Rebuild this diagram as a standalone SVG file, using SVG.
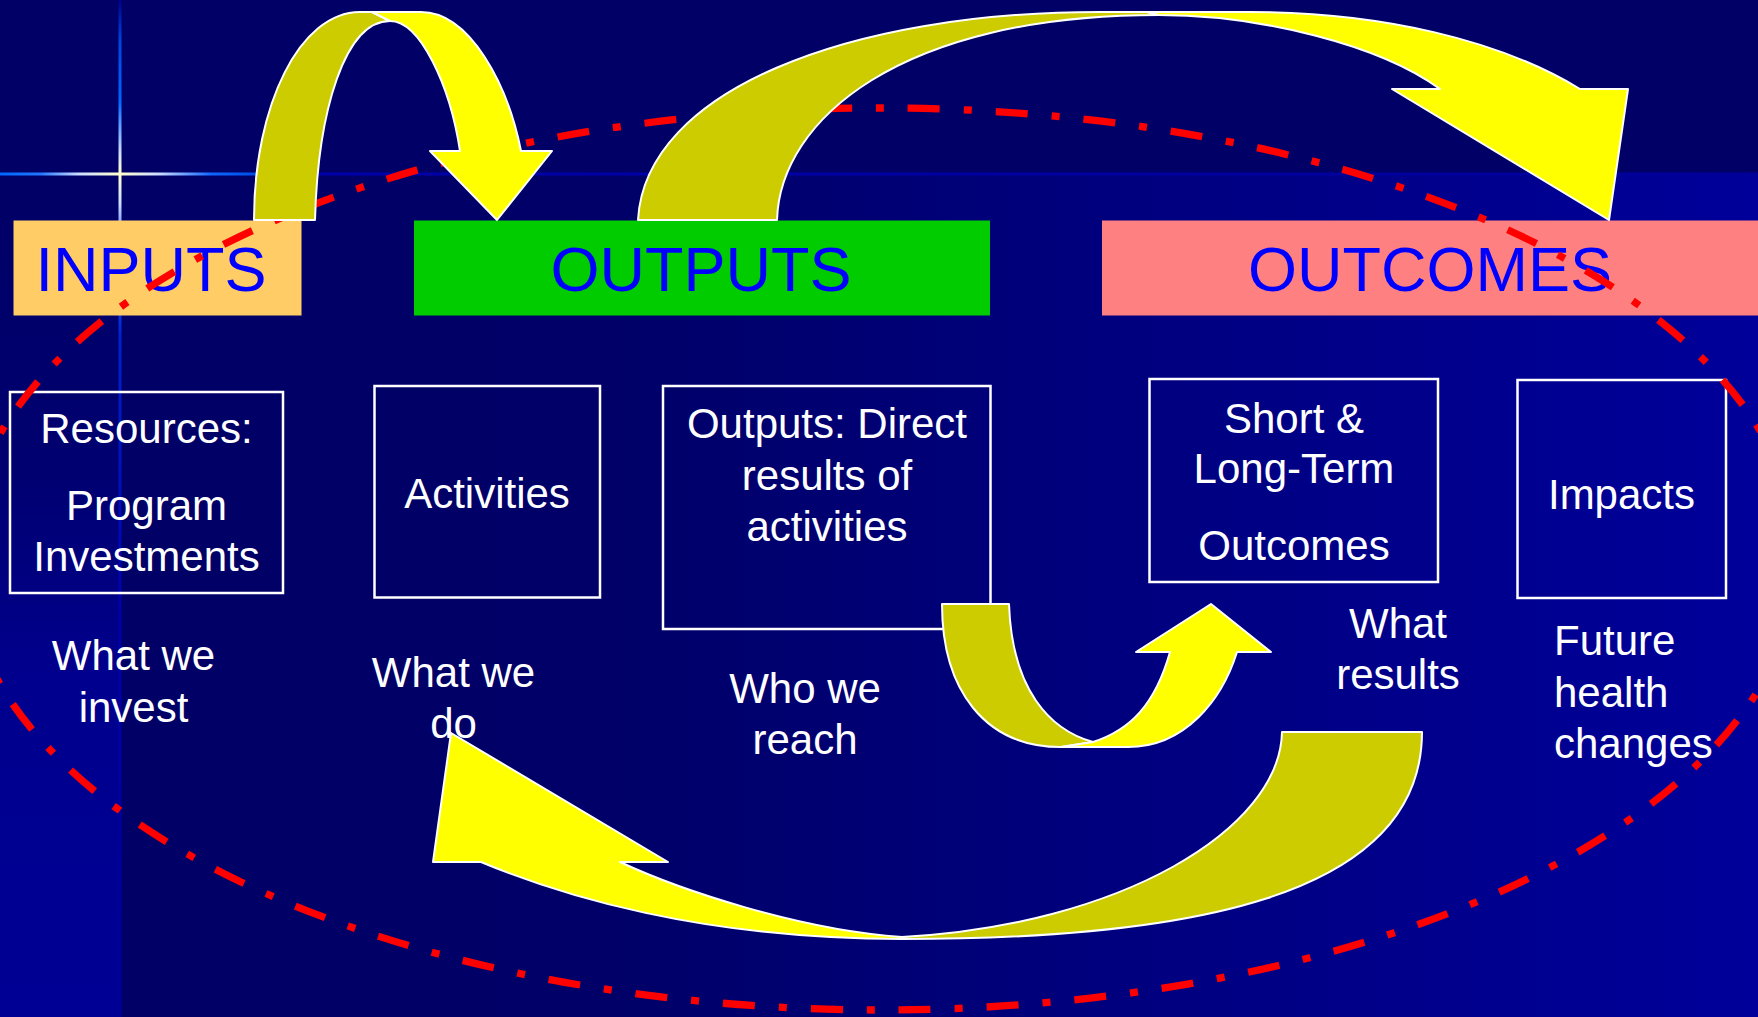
<svg xmlns="http://www.w3.org/2000/svg" width="1758" height="1017" viewBox="0 0 1758 1017">
<defs>
<linearGradient id="bgMain" gradientUnits="userSpaceOnUse" x1="120" y1="0" x2="1758" y2="0">
<stop offset="0" stop-color="#000066"/><stop offset="0.3" stop-color="#000068"/><stop offset="1" stop-color="#00009a"/>
</linearGradient>
<linearGradient id="bgLeft" gradientUnits="userSpaceOnUse" x1="0" y1="174" x2="0" y2="1017">
<stop offset="0" stop-color="#000066"/><stop offset="0.35" stop-color="#000070"/><stop offset="0.6" stop-color="#00008e"/><stop offset="1" stop-color="#000094"/>
</linearGradient>
<linearGradient id="vline" gradientUnits="userSpaceOnUse" x1="0" y1="0" x2="0" y2="1017">
<stop offset="0" stop-color="#000088"/><stop offset="0.04" stop-color="#0044dd"/><stop offset="0.1" stop-color="#0066ff"/><stop offset="0.15" stop-color="#ccddff"/><stop offset="0.171" stop-color="#ffffcc"/><stop offset="0.2" stop-color="#ccddff"/><stop offset="0.24" stop-color="#3366ff"/><stop offset="0.33" stop-color="#0022cc"/><stop offset="0.6" stop-color="#0000aa"/><stop offset="1" stop-color="#000099"/>
</linearGradient>
<linearGradient id="hline" gradientUnits="userSpaceOnUse" x1="0" y1="0" x2="1758" y2="0">
<stop offset="0" stop-color="#0066ff"/><stop offset="0.023" stop-color="#2277ff"/><stop offset="0.045" stop-color="#ccddff"/><stop offset="0.068" stop-color="#ffffcc"/><stop offset="0.09" stop-color="#ccddff"/><stop offset="0.12" stop-color="#1166ff"/><stop offset="0.14" stop-color="#0055ee"/><stop offset="0.18" stop-color="#0000aa"/><stop offset="1" stop-color="#000099"/>
</linearGradient>
</defs>
<style>
.hd{font-family:"Liberation Sans",Arial,sans-serif;font-size:63px;fill:#0000ff;text-anchor:middle}
.tx{font-family:"Liberation Sans",Arial,sans-serif;font-size:42px;fill:#ffffff;text-anchor:middle}
.lt{text-anchor:start}
.box{fill:none;stroke:#ffffff;stroke-width:2.5}
.dk{fill:#cccc00;stroke:#ffffff;stroke-width:2;stroke-linejoin:round}
.yl{fill:#ffff00;stroke:#ffffff;stroke-width:2;stroke-linejoin:round}
.ring{fill:none;stroke:#ff0000;stroke-width:7.3;stroke-dasharray:32 24 8 24}
</style>

<g id="background">
<rect x="0" y="0" width="1758" height="1017" fill="#000066"/>
<rect x="120" y="174" width="1638" height="843" fill="url(#bgMain)"/>
<rect x="0" y="174" width="120" height="843" fill="url(#bgLeft)"/>
<rect x="118.5" y="0" width="3" height="1017" fill="url(#vline)"/>
<rect x="0" y="172.5" width="1758" height="3" fill="url(#hline)"/>
</g>

<g id="inputs">
<rect x="13.5" y="220.5" width="288" height="95" fill="#ffcc66"/>
<text class="hd" x="151" y="291">INPUTS</text>
</g>
<g id="outputs">
<rect x="414" y="220.5" width="576" height="95" fill="#00cc00"/>
<text class="hd" x="701" y="291">OUTPUTS</text>
</g>
<g id="outcomes">
<rect x="1102" y="220.5" width="656" height="95" fill="#ff8080"/>
<text class="hd" x="1430" y="291">OUTCOMES</text>
</g>

<g id="resources">
<rect class="box" x="10" y="392" width="273" height="201"/>
<text class="tx" x="146.5" y="443">Resources:</text>
<text class="tx" x="146.5" y="520">Program</text>
<text class="tx" x="146.5" y="571">Investments</text>
</g>
<g id="activities">
<rect class="box" x="374.5" y="386" width="225.5" height="211.5"/>
<text class="tx" x="487" y="508">Activities</text>
</g>
<g id="direct-outputs">
<rect class="box" x="663" y="386" width="327.5" height="243"/>
<text class="tx" x="827" y="438">Outputs: Direct</text>
<text class="tx" x="827" y="489.5">results of</text>
<text class="tx" x="827" y="541">activities</text>
</g>
<g id="short-long-outcomes">
<rect class="box" x="1149.5" y="379" width="288.5" height="203"/>
<text class="tx" x="1294" y="433">Short &amp;</text>
<text class="tx" x="1294" y="483">Long-Term</text>
<text class="tx" x="1294" y="560">Outcomes</text>
</g>
<g id="impacts">
<rect class="box" x="1517.5" y="380" width="208.5" height="218"/>
<text class="tx" x="1621.5" y="509">Impacts</text>
</g>

<g id="label-invest">
<text class="tx" x="133.5" y="670">What we</text>
<text class="tx" x="133.5" y="721.5">invest</text>
</g>
<g id="label-do">
<text class="tx" x="453.5" y="687">What we</text>
<text class="tx" x="453.5" y="738">do</text>
</g>
<g id="label-reach">
<text class="tx" x="805" y="703">Who we</text>
<text class="tx" x="805" y="754">reach</text>
</g>
<g id="label-results">
<text class="tx" x="1398" y="638">What</text>
<text class="tx" x="1398" y="689">results</text>
</g>
<g id="label-future">
<text class="tx lt" x="1554" y="655">Future</text>
<text class="tx lt" x="1554" y="707">health</text>
<text class="tx lt" x="1554" y="758">changes</text>
</g>

<g id="cycle">
<ellipse class="ring" cx="881" cy="559" rx="917" ry="451"/>
</g>

<g id="connectors">
<g id="arrow-inputs-outputs">
<path class="dk" d="M254,220 C254,105 300,12 360,12 L372,12 L390,21 C345,21 318,110 315,220 Z"/>
<path class="yl" d="M372,12 L421,12 C470,12 508,85 521,151 L552,151 L497,220 L430,151 L460,151 C450,85 420,21 390,21 Z"/>
</g>
<g id="arrow-outputs-outcomes">
<path class="dk" d="M638,220 C645,90 850,12 1100,12 L1147,12 L1159,15 C900,15 780,120 777,220 Z"/>
<path class="yl" d="M1147,12 L1250,12 C1380,12 1500,40 1580,89 L1628,89 L1609,220 L1392,89 L1440,89 C1380,45 1260,15 1159,15 Z"/>
</g>
<g id="arrow-direct-outcomes">
<path class="dk" d="M942,604 L1009,604 C1012,690 1050,730 1093,742 L1061,747 C985,747 942,690 942,604 Z"/>
<path class="yl" d="M1061,747 L1128,747 C1185,747 1222,700 1237,652 L1271,652 L1211,604 L1136,652 L1170,652 C1155,705 1130,730 1093,742 Z"/>
</g>
<g id="arrow-outcomes-activities">
<path class="dk" d="M1282,732 L1422,732 C1422,900 1180,939 902,939 L902,937 C1120,925 1280,830 1282,732 Z"/>
<path class="yl" d="M902,939 C700,939 560,895 481,862 L433,862 L451,733 L668,862 L620,862 C680,890 800,930 902,937 Z"/>
</g>
</g>
</svg>
